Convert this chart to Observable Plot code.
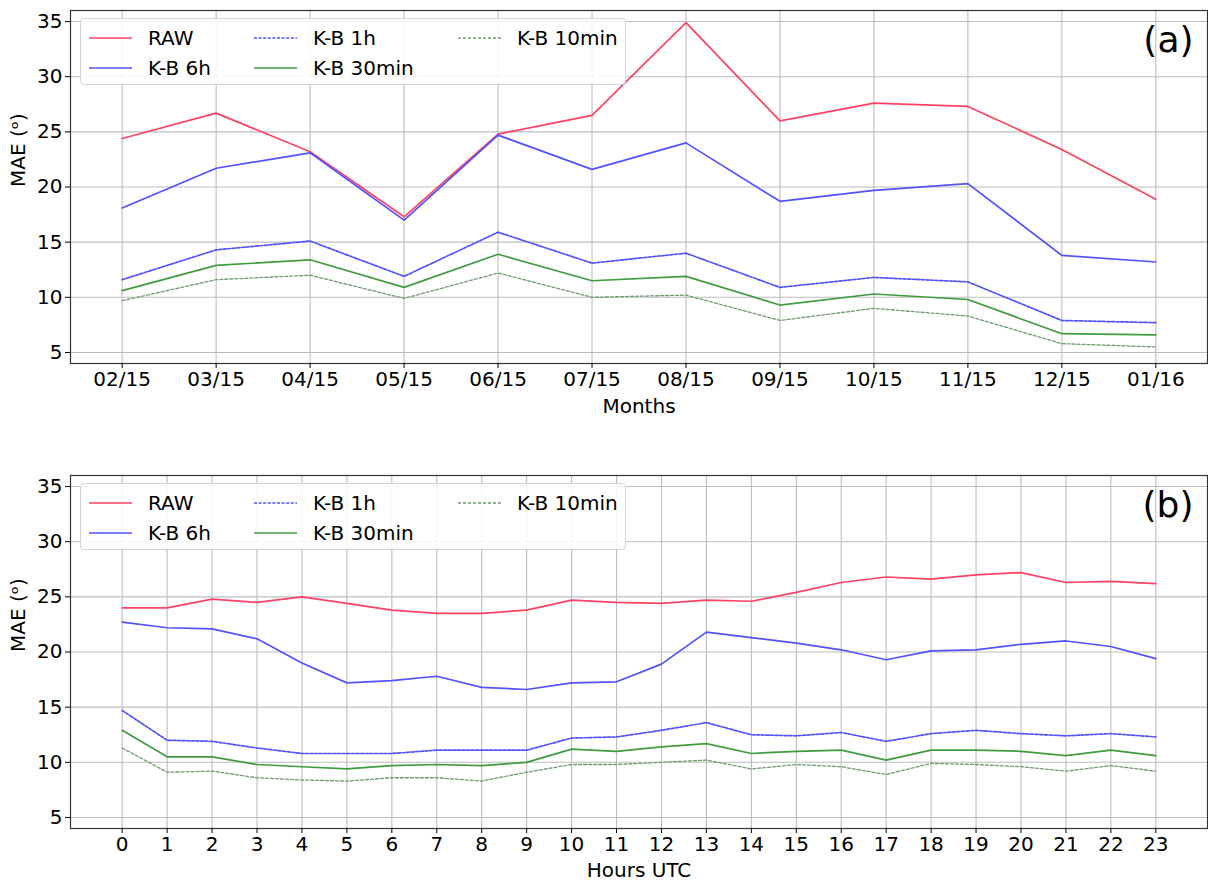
<!DOCTYPE html>
<html>
<head>
<meta charset="utf-8">
<script src="https://cdn.jsdelivr.net/npm/d3@7"></script>
<script src="https://cdn.jsdelivr.net/npm/@observablehq/plot@0.6"></script>
<style>
  html, body { margin: 0; padding: 0; background: #fff; }
  #chart { position: relative; width: 1208px; height: 881px; font-family: "DejaVu Sans", sans-serif; }
  #chart svg.plot { position: absolute; left: 0; }
  .legend { position: absolute; left: 80px; width: 546px; height: 67px; background: rgba(255,255,255,0.85);
            border: 1px solid #d4d4d4; border-radius: 4px; box-sizing: border-box; }
  .legend .item { position: absolute; height: 24px; display: flex; align-items: center; font-size: 20px; color: #000; white-space: nowrap; }
  .legend svg { margin-right: 16px; }
</style>
</head>
<body>
<div id="chart"></div>
<script>
// ---- data ----
const months = ["02/15","03/15","04/15","05/15","06/15","07/15","08/15","09/15","10/15","11/15","12/15","01/16"];
const hours = d3.range(24).map(String);
const yTickValues = [5, 10, 15, 20, 25, 30, 35];
const seriesNames = ["RAW", "K-B 6h", "K-B 1h", "K-B 30min", "K-B 10min"];

// panel (a): monthly MAE
const rawMonthly    = [24.4, 26.7, 23.2, 17.3, 24.8, 26.5, 34.9, 26.0, 27.6, 27.3, 23.4, 18.9];
const kb6hMonthly   = [18.1, 21.7, 23.1, 17.0, 24.7, 21.6, 24.0, 18.7, 19.7, 20.3, 13.8, 13.2];
const kb1hMonthly   = [11.6, 14.3, 15.1, 11.9, 15.9, 13.1, 14.0, 10.9, 11.8, 11.4, 7.9, 7.7];
const kb30Monthly   = [10.6, 12.9, 13.4, 10.9, 13.9, 11.5, 11.9, 9.3, 10.3, 9.8, 6.7, 6.6];
const kb10Monthly   = [9.7, 11.6, 12.0, 9.9, 12.2, 10.0, 10.2, 7.9, 9.0, 8.3, 5.8, 5.5];

// panel (b): hourly MAE
const rawHourly  = [24.0, 24.0, 24.8, 24.5, 25.0, 24.4, 23.8, 23.5, 23.5, 23.8, 24.7, 24.5, 24.4, 24.7, 24.6, 25.4, 26.3, 26.8, 26.6, 27.0, 27.2, 26.3, 26.4, 26.2];
const kb6hHourly = [22.7, 22.2, 22.1, 21.2, 19.0, 17.2, 17.4, 17.8, 16.8, 16.6, 17.2, 17.3, 18.9, 21.8, 21.3, 20.8, 20.2, 19.3, 20.1, 20.2, 20.7, 21.0, 20.5, 19.4];
const kb1hHourly = [14.7, 12.0, 11.9, 11.3, 10.8, 10.8, 10.8, 11.1, 11.1, 11.1, 12.2, 12.3, 12.9, 13.6, 12.5, 12.4, 12.7, 11.9, 12.6, 12.9, 12.6, 12.4, 12.6, 12.3];
const kb30Hourly = [12.9, 10.5, 10.5, 9.8, 9.6, 9.4, 9.7, 9.8, 9.7, 10.0, 11.2, 11.0, 11.4, 11.7, 10.8, 11.0, 11.1, 10.2, 11.1, 11.1, 11.0, 10.6, 11.1, 10.6];
const kb10Hourly = [11.3, 9.1, 9.2, 8.6, 8.4, 8.3, 8.6, 8.6, 8.3, 9.1, 9.8, 9.8, 10.0, 10.2, 9.4, 9.8, 9.6, 8.9, 9.9, 9.8, 9.6, 9.2, 9.7, 9.2];

// ---- styles ----
const seriesColors = ["#ff4262", "#5252ff", "#5252ff", "#3f9c3f", "#6f9a6f"];
const seriesDash   = [null, null, "3,1.6", null, "3,2"];
const seriesWidth  = [1.7, 1.7, 1.7, 1.7, 1.3];
const gridColor = "#bdbdbd";

function toRows(seriesList) {
  const rows = [];
  seriesList.forEach((vals, si) => vals.forEach((v, i) => rows.push({ s: seriesNames[si], x: i, y: v })));
  return rows;
}

function panel({ labels, series, height, marginTop, marginBottom, pad, xLabel, labelDy, tag }) {
  const n = labels.length;
  const rows = toRows(series);
  const lines = seriesNames.map((name, si) =>
    Plot.line(rows.filter(d => d.s === name), {
      x: "x", y: "y",
      stroke: seriesColors[si], strokeWidth: seriesWidth[si],
      strokeDasharray: seriesDash[si] || undefined
    }));
  return Plot.plot({
    width: 1208, height,
    marginLeft: 70, marginRight: 1, marginTop, marginBottom,
    x: { domain: [-pad, n - 1 + pad] },
    y: { domain: [4, 36] },
    style: { fontFamily: "DejaVu Sans, sans-serif", fontSize: "20px", color: "#000", background: "transparent", overflow: "visible" },
    marks: [
      Plot.gridX(d3.range(n), { stroke: gridColor, strokeOpacity: 1, strokeWidth: 1.1 }),
      Plot.gridY(yTickValues, { stroke: gridColor, strokeOpacity: 1, strokeWidth: 1.1 }),
      ...lines,
      Plot.frame({ stroke: "#333", strokeWidth: 1.2 }),
      Plot.axisX(d3.range(n), { tickFormat: i => labels[i], fontSize: 20, tickSize: 5, tickPadding: 3, label: null }),
      Plot.axisY(yTickValues, { fontSize: 20, tickSize: 5, tickPadding: 3, label: null }),
      Plot.text([xLabel], { text: d => d, frameAnchor: "bottom", dy: labelDy, fontSize: 20 }),
      Plot.text(["MAE (ᵒ)"], { text: d => d, frameAnchor: "left", rotate: -90, dx: -52, fontSize: 20 }),
      Plot.text([tag], { text: d => d, frameAnchor: "top-right", dx: -14, dy: 16, fontSize: 36 })
    ]
  });
}

const chart = document.getElementById("chart");

const plotA = panel({ labels: months, series: [rawMonthly, kb6hMonthly, kb1hMonthly, kb30Monthly, kb10Monthly],
  height: 440, marginTop: 10, marginBottom: 77, pad: 0.55, xLabel: "Months", labelDy: 49, tag: "(a)" });
plotA.classList.add("plot");
plotA.style.top = "0px";
chart.appendChild(plotA);

const plotB = panel({ labels: hours, series: [rawHourly, kb6hHourly, kb1hHourly, kb30Hourly, kb10Hourly],
  height: 441, marginTop: 35, marginBottom: 53, pad: 1.15, xLabel: "Hours UTC", labelDy: 48, tag: "(b)" });
plotB.classList.add("plot");
plotB.style.top = "440px";
chart.appendChild(plotB);

// legends (matplotlib style, 3 columns, column-major order)
const colX = [8, 173, 377];
const rowY = [7, 37];
function addLegend(top) {
  const box = document.createElement("div");
  box.className = "legend";
  box.style.top = top + "px";
  seriesNames.forEach((name, si) => {
    const col = Math.floor(si / 2), row = si % 2;
    const item = document.createElement("div");
    item.className = "item";
    item.style.left = colX[col] + "px";
    item.style.top = rowY[row] + "px";
    const dash = seriesDash[si] ? `stroke-dasharray="${seriesDash[si]}"` : "";
    item.innerHTML = `<svg width="43" height="10"><line x1="0" y1="5" x2="43" y2="5" stroke="${seriesColors[si]}" stroke-width="${seriesWidth[si]}" ${dash}/></svg><span>${name}</span>`;
    box.appendChild(item);
  });
  chart.appendChild(box);
}
addLegend(18);
addLegend(483);
</script>
</body>
</html>
